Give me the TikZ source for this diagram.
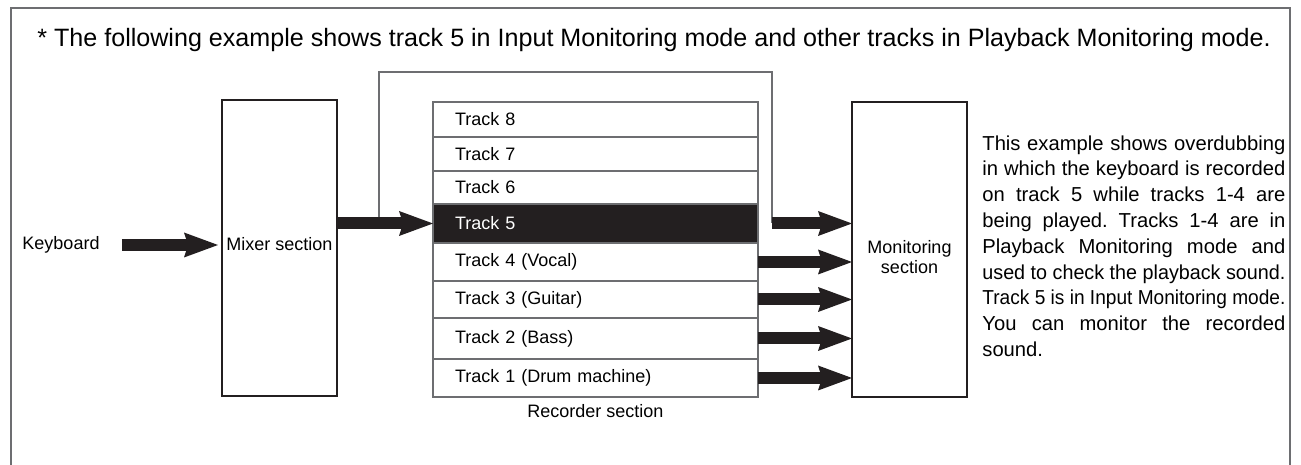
\documentclass[tikz,border=0pt]{standalone}
\usepackage{fontspec}
\usepackage{graphicx}
\setmainfont{Liberation Sans}
\usetikzlibrary{positioning, arrows.meta}

\definecolor{ink}{HTML}{231F20}
\definecolor{rule}{HTML}{6D6E71}
\frenchspacing

\begin{document}
\begin{tikzpicture}[
    x=0.5pt, y=0.5pt,
    box/.style    = {draw=ink, line width=0.6pt, minimum width=57.5pt, inner sep=1pt,
                     outer sep=0pt, align=center, font=\fontsize{9}{10}\selectfont},
    track/.style  = {draw=rule, line width=0.6pt, text width=140.5pt, inner xsep=11pt,
                     inner ysep=0pt, outer sep=0pt, align=left, font=\fontsize{9}{10}\selectfont},
    live/.style   = {track, fill=ink, text=white},
    pipe/.style   = {draw=ink, line width=6pt,
                     -{Stealth[length=17pt, width=12.5pt, inset=2pt, line width=0pt]}},
    bypass/.style = {draw=rule, line width=0.7pt},
    note/.style   = {inner sep=0pt, font=\fontsize{9}{10}\selectfont},
  ]
  \useasboundingbox (0,0) rectangle (1301,465);
  \draw[draw=rule, line width=0.8pt] (11,0) -- (11,457) -- (1290,457) -- (1290,0);

  \node[note, anchor=base west, font=\fontsize{12.55}{14}\selectfont] (title) at (37,418)
      {* The following example shows track 5 in Input Monitoring mode and other tracks in Playback Monitoring mode.};

  \node[note] (kbd) at (61,220) {Keyboard};
  \node[box, minimum height=148pt, text depth=4pt] (mixer) at (279.5,217) {Mixer section};

  % recorder tracks, top to bottom
  \node[track, minimum height=17.5pt, anchor=north] (t8) at (595.5,363) {Track 8};
  \foreach \n/\m/\h/\s/\t in {7/8/17pt/track/Track 7, 6/7/16.5pt/track/Track 6,
                              5/6/19.5pt/live/Track 5, 4/5/19pt/track/Track 4 (Vocal),
                              3/4/18.5pt/track/Track 3 (Guitar), 2/3/20.5pt/track/Track 2 (Bass),
                              1/2/19pt/track/Track 1 (Drum machine)}
    \node[\s, minimum height=\h, below=0pt of t\m] (t\n) {\t};
  \node[note, below=3.5pt of t1] (rec) {Recorder section};

  \node[box, minimum height=147.5pt, text height=24.5pt] (mon) at (909.5,215.5) {Monitoring\\section};

  \node[note, text width=151.5pt, align=justify, anchor=north west,
        font=\fontsize{10.1}{12.9}\selectfont] (expl) at (982,330)
      {This example shows overdubbing\linebreak
       in which the keyboard is recorded\linebreak
       on track 5 while tracks 1-4 are\linebreak
       being played. Tracks 1-4 are in\linebreak
       Playback Monitoring mode and\linebreak
       \resizebox{\hsize}{\height}{used to check the playback sound.}\linebreak
       \resizebox{\hsize}{\height}{Track 5 is in Input Monitoring mode.}\linebreak
       You can monitor the recorded\linebreak
       sound.};

  % input monitoring route round the recorder
  \coordinate (tap) at (379,0 |- t5.west);
  \coordinate (drop) at (772,0 |- t5.east);
  \draw[bypass] (tap) -- ++(0,151.5) -| (drop);

  \draw[pipe] ([xshift=11pt]kbd.east) -- ([xshift=-2pt]kbd.east -| mixer.west);
  \draw[pipe] (mixer.east |- t5.west) -- (t5.west);
  \draw[pipe] (drop) -- (drop -| mon.west);
  \foreach \n in {1,...,4}
    \draw[pipe] (t\n.east) -- (t\n.east -| mon.west);
\end{tikzpicture}
\end{document}
